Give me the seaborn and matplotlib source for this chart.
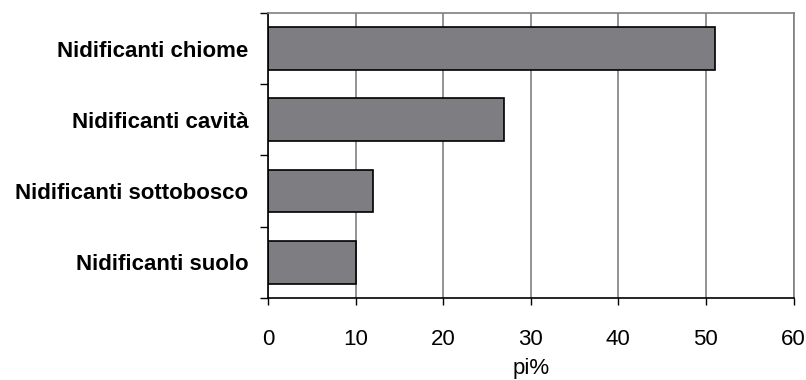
import numpy as np
import pandas as pd
import seaborn as sns
import matplotlib.pyplot as plt

# dati ---------------------------------------------------------------
categorie = ['Nidificanti chiome', 'Nidificanti cavità', 'Nidificanti sottobosco', 'Nidificanti suolo']
valori = [51, 27, 12, 10]
xticks = [0, 10, 20, 30, 40, 50, 60]

df = pd.DataFrame({'categoria': categorie, 'pi': valori})

# grafico ------------------------------------------------------------
sns.set_style('white')
plt.rcParams['font.family'] = ['Liberation Sans', 'DejaVu Sans']
plt.rcParams['text.color'] = 'black'
plt.rcParams['xtick.color'] = 'black'
plt.rcParams['ytick.color'] = 'black'
plt.rcParams['axes.labelcolor'] = 'black'

fig = plt.figure(figsize=(8.06, 3.8), dpi=100)
ax = fig.add_axes([0.3325, 0.2158, 0.652, 0.750])

sns.barplot(data=df, x='pi', y='categoria', orient='h', color='#7d7d82',
            saturation=1, edgecolor='black', linewidth=1.2, width=0.6, ax=ax)

ax.set_xlim(0, 60)
ax.set_ylim(3.5, -0.5)
ax.set_xticks(xticks)
ax.set_xticklabels([str(t) for t in xticks], fontsize=16)
ax.grid(axis='x', color='#808080', linewidth=1.2)
ax.set_axisbelow(True)

# tacche tra le categorie
ax.set_yticks(np.arange(-0.5, 4, 1), minor=True)
ax.tick_params(axis='y', which='minor', length=6, width=1, color='black', direction='out', left=True)
ax.tick_params(axis='y', which='major', length=0, pad=14)
ax.tick_params(axis='x', length=5, width=1, color='black', direction='out', bottom=True, pad=17)
for lab in ax.get_yticklabels():
    lab.set_fontweight('bold')
    lab.set_fontsize(16)

ax.set_ylabel('')
ax.set_xlabel('pi%', fontsize=16, labelpad=6)

for s in ['left', 'bottom']:
    ax.spines[s].set_color('black')
    ax.spines[s].set_linewidth(1.2)
for s in ['top', 'right']:
    ax.spines[s].set_color('#808080')
    ax.spines[s].set_linewidth(1.2)

fig.savefig('out.png', dpi=100)
